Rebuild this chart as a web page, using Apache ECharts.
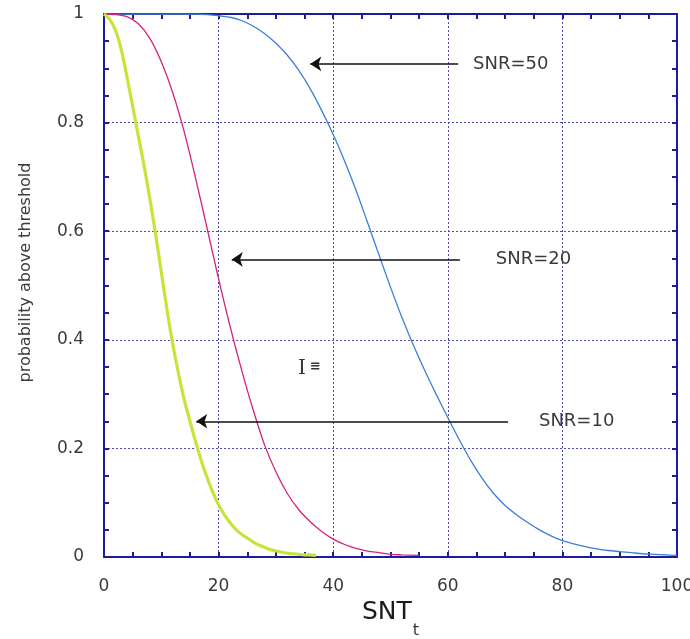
<!DOCTYPE html>
<html>
<head>
<meta charset="utf-8">
<script src="https://cdn.jsdelivr.net/npm/echarts@6/dist/echarts.min.js"></script>
<style>
  html, body { margin: 0; padding: 0; background: #fff; }
  #chart { width: 690px; height: 639px; }
</style>
</head>
<body>
<div id="chart"></div>
<script>
  // SNR = 10 (yellow, thick)
  var snr10X = [0, 1, 2, 3, 4, 5, 6, 7, 8, 9, 10, 11, 12, 13, 14, 15, 16, 17, 18, 19, 20, 21, 22, 23, 24, 25, 26, 27, 28, 29, 30, 31, 32, 33, 34, 35, 36, 37];
  var snr10Y = [1, 0.99, 0.97, 0.935, 0.885, 0.83, 0.775, 0.72, 0.66, 0.595, 0.525, 0.455, 0.392, 0.338, 0.29, 0.25, 0.212, 0.177, 0.146, 0.119, 0.096, 0.078, 0.063, 0.051, 0.042, 0.035, 0.028, 0.022, 0.018, 0.014, 0.011, 0.009, 0.007, 0.006, 0.005, 0.004, 0.004, 0.003];

  // SNR = 20 (magenta)
  var snr20X = [0, 2, 4, 6, 8, 10, 12, 14, 16, 18, 20, 22, 24, 26, 28, 30, 32, 34, 36, 38, 40, 42, 44, 46, 48, 50, 52, 55];
  var snr20Y = [1, 0.999, 0.995, 0.982, 0.955, 0.912, 0.855, 0.783, 0.697, 0.605, 0.512, 0.425, 0.345, 0.272, 0.207, 0.157, 0.117, 0.087, 0.065, 0.047, 0.033, 0.023, 0.016, 0.011, 0.008, 0.005, 0.004, 0.003];

  // SNR = 50 (blue)
  var snr50X = [0, 16, 18, 20, 22, 24, 26, 28, 30, 32, 34, 36, 38, 40, 42, 44, 46, 48, 50, 52, 54, 56, 58, 60, 62, 64, 66, 68, 70, 72, 74, 76, 78, 80, 82, 84, 86, 88, 90, 92, 94, 96, 98, 100];
  var snr50Y = [1, 1, 0.999, 0.997, 0.994, 0.988, 0.978, 0.964, 0.946, 0.924, 0.896, 0.862, 0.822, 0.778, 0.729, 0.675, 0.616, 0.556, 0.497, 0.441, 0.39, 0.343, 0.299, 0.257, 0.216, 0.178, 0.145, 0.117, 0.095, 0.078, 0.063, 0.05, 0.039, 0.03, 0.024, 0.019, 0.015, 0.012, 0.01, 0.008, 0.006, 0.005, 0.004, 0.003];

  var xTicks = [0, 20, 40, 60, 80, 100];
  var yTicks = [0, 0.2, 0.4, 0.6, 0.8, 1];

  // annotation arrows: label, y, x of tail, x of head
  var arrowLabels = ['SNR=50', 'SNR=20', 'SNR=10'];
  var arrowY = [0.908, 0.548, 0.25];
  var arrowFrom = [61.8, 62.1, 70.5];
  var arrowTo = [36.0, 22.3, 16.1];

  // gap between each arrow tail and its text, px
  var labelGaps = [15, 36, 31];

  function pairs(xs, ys) {
    return xs.map(function (x, i) { return [x, ys[i]]; });
  }

  var axisColor = '#1c1ca0';
  var gridColor = '#4a4aa8';
  var textColor = '#3a3a3a';
  var font = '"DejaVu Sans", "Liberation Sans", Arial, sans-serif';

  var chart = echarts.init(document.getElementById('chart'));

  var arrowData = arrowLabels.map(function (name, i) {
    return [
      { coord: [arrowFrom[i], arrowY[i]], name: name, label: { distance: labelGaps[i] } },
      { coord: [arrowTo[i], arrowY[i]] }
    ];
  });

  var axisLine = { show: true, onZero: false, lineStyle: { color: axisColor, width: 2 } };
  var axisTick = { show: true, inside: true, length: 5, lineStyle: { color: axisColor, width: 2 } };
  var minorTick = { show: true, splitNumber: 4, length: 5, lineStyle: { color: axisColor, width: 2 } };
  var gridLine = { show: true, lineStyle: { color: gridColor, type: [2, 2], width: 1 } };

  chart.setOption({
    animation: false,
    backgroundColor: '#fff',
    grid: { left: 104, right: 13, top: 14, bottom: 82, containLabel: false, outerBoundsMode: 'none' },
    xAxis: [
      {
        type: 'value', min: 0, max: 100, interval: 20,
        name: '{a|SNT}{b|t}',
        nameLocation: 'middle',
        nameGap: 25,
        nameTextStyle: {
          rich: {
            a: { fontFamily: font, fontSize: 25, color: '#1a1a1a' },
            b: { fontFamily: font, fontSize: 16, color: textColor, padding: [37, 0, 0, 1] }
          }
        },
        axisLine: axisLine, axisTick: axisTick, minorTick: minorTick,
        axisLabel: {
          color: textColor, fontFamily: font, fontSize: 17, margin: 21,
          formatter: function (v) { return xTicks.indexOf(v) >= 0 ? String(v) : ''; }
        },
        splitLine: gridLine
      },
      {
        type: 'value', min: 0, max: 100, interval: 20, position: 'top',
        axisLine: axisLine, axisTick: axisTick, minorTick: minorTick,
        axisLabel: { show: false }, splitLine: { show: false }
      }
    ],
    yAxis: [
      {
        type: 'value', min: 0, max: 1, interval: 0.2,
        name: 'probability above threshold',
        nameLocation: 'middle',
        nameGap: 70,
        nameTextStyle: { fontFamily: font, fontSize: 16, color: textColor, padding: [0, 0, 0, 26] },
        axisLine: axisLine, axisTick: axisTick, minorTick: minorTick,
        axisLabel: {
          color: textColor, fontFamily: font, fontSize: 17, margin: 20,
          formatter: function (v) {
            var r = Math.round(v * 10) / 10;
            return yTicks.indexOf(r) >= 0 ? String(r) : '';
          }
        },
        splitLine: gridLine
      },
      {
        type: 'value', min: 0, max: 1, interval: 0.2, position: 'right',
        axisLine: axisLine, axisTick: axisTick, minorTick: minorTick,
        axisLabel: { show: false }, splitLine: { show: false }
      }
    ],
    series: [
      {
        name: 'SNR=50', type: 'line', showSymbol: false, smooth: 0.3,
        data: pairs(snr50X, snr50Y),
        lineStyle: { color: '#3c7fd6', width: 1.3 },
        z: 3,
        markLine: {
          silent: true,
          symbol: ['none', 'arrow'],
          symbolSize: 11,
          lineStyle: { color: '#111', width: 1.5, type: 'solid' },
          label: {
            show: true, position: 'start', distance: 14,
            formatter: '{b}', color: textColor, fontFamily: font, fontSize: 18
          },
          data: arrowData
        }
      },
      {
        name: 'SNR=20', type: 'line', showSymbol: false, smooth: 0.3,
        data: pairs(snr20X, snr20Y),
        lineStyle: { color: '#d4237f', width: 1.3 },
        z: 3
      },
      {
        name: 'SNR=10', type: 'line', showSymbol: false, smooth: 0.3,
        data: pairs(snr10X, snr10Y),
        lineStyle: { color: '#c8e43a', width: 3.2 },
        z: 3
      }
    ],
    graphic: [
      { type: 'text', left: 298, top: 359, style: { text: 'I', font: '20px "DejaVu Serif", serif', fill: '#333' } },
      { type: 'text', left: 310, top: 360, style: { text: '≡', font: 'bold 13px "DejaVu Sans", sans-serif', fill: '#333' } }
    ]
  });
</script>
</body>
</html>
